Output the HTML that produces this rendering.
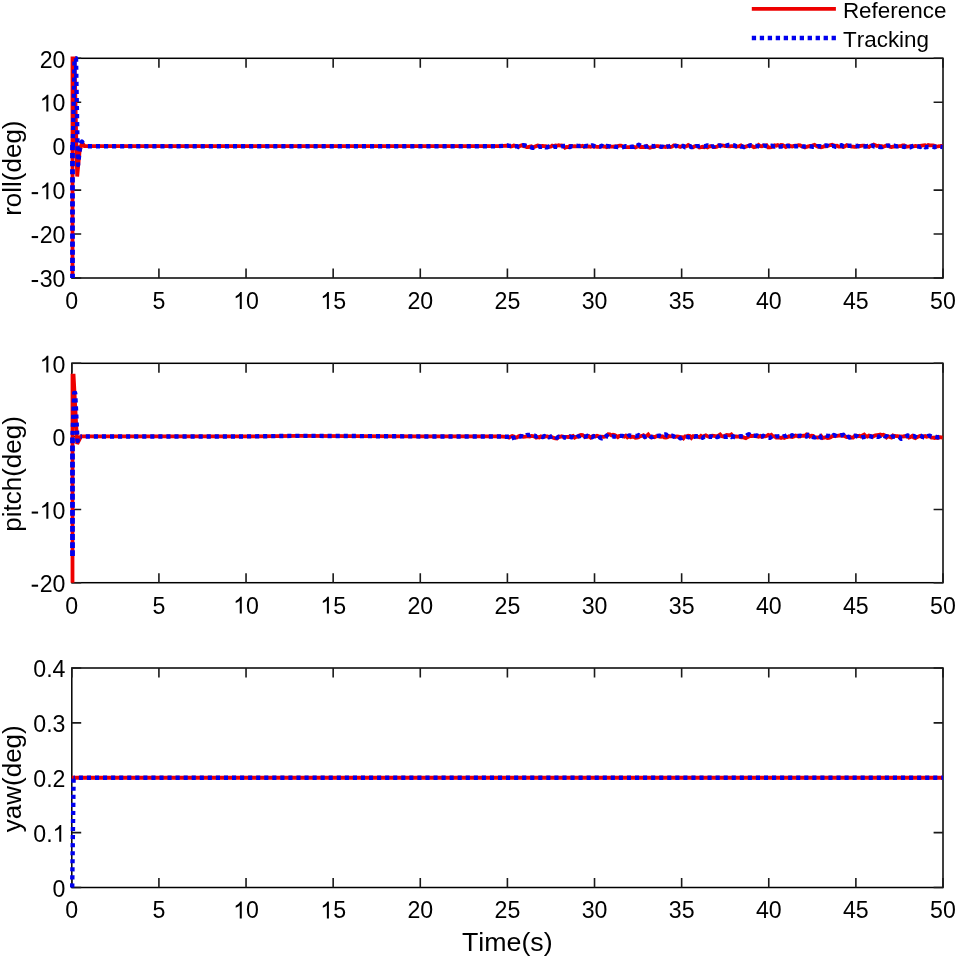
<!DOCTYPE html>
<html><head><meta charset="utf-8"><style>html,body{margin:0;padding:0;background:#fff;}svg{display:block;will-change:transform;}text{font-family:"Liberation Sans",sans-serif;fill:#000;font-kerning:none;}</style></head><body>
<svg width="957" height="957" viewBox="0 0 957 957">
<rect width="957" height="957" fill="#fff"/>
<g>
<rect x="71.8" y="58.3" width="871.2" height="219.7" fill="none" stroke="#000" stroke-width="1.5"/>
<path d="M71.8 278v-9.4M71.8 58.3v9.4M158.92 278v-9.4M158.92 58.3v9.4M246.04 278v-9.4M246.04 58.3v9.4M333.16 278v-9.4M333.16 58.3v9.4M420.28 278v-9.4M420.28 58.3v9.4M507.4 278v-9.4M507.4 58.3v9.4M594.52 278v-9.4M594.52 58.3v9.4M681.64 278v-9.4M681.64 58.3v9.4M768.76 278v-9.4M768.76 58.3v9.4M855.88 278v-9.4M855.88 58.3v9.4M943 278v-9.4M943 58.3v9.4M71.8 278h9.4M943 278h-9.4M71.8 234.06h9.4M943 234.06h-9.4M71.8 190.12h9.4M943 190.12h-9.4M71.8 146.18h9.4M943 146.18h-9.4M71.8 102.24h9.4M943 102.24h-9.4M71.8 58.3h9.4M943 58.3h-9.4" stroke="#1a1a1a" stroke-width="1.6" fill="none"/>
<clipPath id="c0"><rect x="68.8" y="55.3" width="877.2" height="225.7"/></clipPath>
<g clip-path="url(#c0)">
<polyline fill="none" stroke="#ee0000" stroke-width="3.8" stroke-linejoin="miter" stroke-miterlimit="2" points="72.5,278 72.5,58.3 74.5,58.3 76.5,150 77.2,176.5 79.5,152 82,142.5 84.5,146.18 89.22,146.18 158.92,146.18 246.04,146.18 333.16,146.18 420.28,146.18 498.69,146.18 507.4,145.57 509,146.03 510.6,146.59 512.2,146.15 513.8,145.51 515.4,145.78 517,146.2 518.6,146.73 520.2,145.88 521.8,145.38 523.4,146.09 525,146.36 526.6,147.04 528.2,147.14 529.8,146.66 531.4,146.31 533,147.52 534.6,146.78 536.2,146.12 537.8,145.58 539.4,145.9 541,146.1 542.6,145.96 544.2,146.03 545.8,146.23 547.4,146.55 549,146.93 550.6,146.69 552.2,145.58 553.8,146.2 555.4,145.49 557,145.71 558.6,145.19 560.2,145.64 561.8,145.5 563.4,145.91 565,147.67 566.6,146.97 568.2,147.03 569.8,145.99 571.4,145.94 573,146.37 574.6,146.24 576.2,146.4 577.8,146.35 579.4,145.78 581,146.24 582.6,145.81 584.2,146.9 585.8,146.33 587.4,146.6 589,146.41 590.6,146.78 592.2,146.21 593.8,146.69 595.4,146.4 597,146.93 598.6,146.9 600.2,146.65 601.8,146.05 603.4,146.49 605,146.58 606.6,147.21 608.2,146.56 609.8,146.66 611.4,146.7 613,146.6 614.6,146.52 616.2,146.46 617.8,146.04 619.4,145.6 621,145.66 622.6,146.19 624.2,146.93 625.8,147.08 627.4,147.2 629,147.12 630.6,147.04 632.2,146.75 633.8,146.87 635.4,147.44 637,146.71 638.6,146.13 640.2,147.12 641.8,146.82 643.4,147.01 645,147.07 646.6,146.11 648.2,147.34 649.8,147.7 651.4,147.1 653,147.06 654.6,146.73 656.2,146.04 657.8,146.05 659.4,146.29 661,146.79 662.6,146.87 664.2,146.59 665.8,147.08 667.4,146.3 669,146.64 670.6,146.98 672.2,146.48 673.8,145.46 675.4,145.33 677,145.83 678.6,146.25 680.2,146.98 681.8,146.13 683.4,146.15 685,146.49 686.6,146.27 688.2,145.06 689.8,145.96 691.4,147.2 693,147.24 694.6,146.31 696.2,146.05 697.8,146.22 699.4,147.43 701,147.17 702.6,146.78 704.2,147.28 705.8,146.75 707.4,147.41 709,146.52 710.6,146.13 712.2,146.51 713.8,147.07 715.4,146.99 717,146.78 718.6,145.61 720.2,145.51 721.8,145.51 723.4,145.55 725,146.12 726.6,145.98 728.2,146.46 729.8,146.38 731.4,146.12 733,146.21 734.6,146.41 736.2,146.73 737.8,146.25 739.4,146.1 741,145.46 742.6,146.58 744.2,147.12 745.8,146.61 747.4,146.18 749,145.57 750.6,145.93 752.2,146.14 753.8,147.24 755.4,146.88 757,146.18 758.6,144.97 760.2,146.21 761.8,146.29 763.4,145.44 765,145.86 766.6,145.21 768.2,147.37 769.8,147.39 771.4,147.13 773,146.61 774.6,145.36 776.2,145.67 777.8,145.13 779.4,145.9 781,144.97 782.6,145.06 784.2,146.17 785.8,146.99 787.4,146.04 789,145.34 790.6,146.16 792.2,146.59 793.8,145.92 795.4,145.69 797,145.57 798.6,145.25 800.2,145.33 801.8,146.33 803.4,146.61 805,147.43 806.6,146.83 808.2,146.47 809.8,145.85 811.4,145.94 813,145.4 814.6,144.87 816.2,145.8 817.8,146.69 819.4,146.87 821,147.22 822.6,146.88 824.2,146.21 825.8,146.24 827.4,146.03 829,145.55 830.6,144.99 832.2,144.79 833.8,145.41 835.4,145.83 837,145.75 838.6,146.65 840.2,146.53 841.8,146.66 843.4,147.05 845,146.25 846.6,145.24 848.2,146.04 849.8,145.76 851.4,146.6 853,146.58 854.6,146.9 856.2,146.95 857.8,145.57 859.4,146.2 861,145.86 862.6,145.63 864.2,145.66 865.8,146.28 867.4,146.67 869,146.95 870.6,145.78 872.2,145.67 873.8,144.72 875.4,145.33 877,146.01 878.6,145.71 880.2,146.04 881.8,146.22 883.4,146.7 885,146.06 886.6,145.7 888.2,145.54 889.8,146.7 891.4,147 893,146.57 894.6,146.51 896.2,146.42 897.8,146.41 899.4,146.2 901,146.03 902.6,145.47 904.2,145.47 905.8,146.61 907.4,146.68 909,146.49 910.6,146.24 912.2,146.25 913.8,146.39 915.4,145.98 917,146.17 918.6,146.29 920.2,145.87 921.8,145.62 923.4,145.38 925,145.21 926.6,146.09 928.2,144.96 929.8,145.38 931.4,145.44 933,145.46 934.6,145.83 936.2,146.55 937.8,146.42 939.4,146.24 941,145.91 942.6,145.97"/>
<polyline fill="none" stroke-linejoin="round" stroke="#0000ee" stroke-width="4.8" stroke-dasharray="5.2 2.85" stroke-dashoffset="1.0" points="72.5,278 72.5,142.18"/>
<polyline fill="none" stroke-linejoin="round" stroke="#0000ee" stroke-width="4.4" stroke-dasharray="4.1 3.960000000000001" stroke-dashoffset="0" points="72.8,146.18 74.6,58.3 76,58.3 77.5,145 78,165 80,148 82,141.5 84.5,146.18"/>
<polyline fill="none" stroke-linejoin="round" stroke="#0000ee" stroke-width="4.4" stroke-dasharray="4.1 3.960000000000001" stroke-dashoffset="4.67" points="84.5,146.18 89.22,146.18 158.92,146.18 246.04,146.18 333.16,146.18 420.28,146.18 498.69,146.18 507.4,145.46 509,145.9 510.6,145.89 512.2,145.78 513.8,146.44 515.4,146.36 517,146.14 518.6,147.05 520.2,146.41 521.8,145.68 523.4,145.23 525,145.4 526.6,146.07 528.2,146.54 529.8,146.94 531.4,147.52 533,147.77 534.6,147.38 536.2,147.52 537.8,147.26 539.4,146.51 541,146.79 542.6,146.57 544.2,146.31 545.8,147.27 547.4,147.19 549,146.52 550.6,146.36 552.2,147.47 553.8,146.79 555.4,146.91 557,146.92 558.6,146.87 560.2,146.88 561.8,146.35 563.4,146.07 565,146.07 566.6,145.97 568.2,146.49 569.8,147.15 571.4,146.3 573,146.55 574.6,145.92 576.2,145.72 577.8,145.83 579.4,146.07 581,145.93 582.6,144.76 584.2,146.12 585.8,146.04 587.4,145.81 589,146.35 590.6,146 592.2,145.39 593.8,146.02 595.4,146.33 597,145.88 598.6,146.46 600.2,146.55 601.8,145.84 603.4,146.9 605,146.74 606.6,145.94 608.2,146.31 609.8,146.34 611.4,146.78 613,145.86 614.6,146.55 616.2,146.89 617.8,146.94 619.4,146.93 621,147.28 622.6,147.17 624.2,146.82 625.8,146.14 627.4,146.74 629,147.01 630.6,146.81 632.2,146.63 633.8,146.82 635.4,145.29 637,145.88 638.6,144.79 640.2,145.56 641.8,146.4 643.4,147.28 645,146.57 646.6,146.64 648.2,146.42 649.8,145.22 651.4,146.04 653,146.12 654.6,146.21 656.2,145.75 657.8,145.94 659.4,146.12 661,146.81 662.6,146.7 664.2,148.24 665.8,147.13 667.4,146.59 669,146.41 670.6,145.92 672.2,146.82 673.8,146.88 675.4,145.95 677,146.13 678.6,146.75 680.2,145.81 681.8,146.07 683.4,146.03 685,147.29 686.6,147.02 688.2,146.46 689.8,146.08 691.4,147.1 693,146.47 694.6,147.51 696.2,146.15 697.8,146.09 699.4,146.03 701,145.77 702.6,145.87 704.2,146.38 705.8,145.98 707.4,145.37 709,146.44 710.6,147.08 712.2,146.35 713.8,146.45 715.4,145.06 717,146.11 718.6,145.5 720.2,145.55 721.8,146.94 723.4,145.99 725,146.11 726.6,145.63 728.2,144.97 729.8,144.95 731.4,145.66 733,145.26 734.6,145.4 736.2,146.14 737.8,146.1 739.4,145.5 741,146.58 742.6,146.48 744.2,147.08 745.8,146.17 747.4,147.04 749,146 750.6,145.23 752.2,145.47 753.8,145.62 755.4,146.03 757,145.84 758.6,146.33 760.2,146.96 761.8,146.3 763.4,145.58 765,145.67 766.6,146.33 768.2,146.7 769.8,146.31 771.4,145.78 773,145.97 774.6,146.57 776.2,146.06 777.8,146.79 779.4,146.65 781,146.61 782.6,146.12 784.2,146.85 785.8,146.59 787.4,145.68 789,146.34 790.6,146.08 792.2,146.69 793.8,146.57 795.4,146.1 797,146.24 798.6,145.99 800.2,145.68 801.8,145.94 803.4,146.49 805,146.41 806.6,146.28 808.2,145.98 809.8,146.38 811.4,146.45 813,146.83 814.6,146.74 816.2,147.58 817.8,146.18 819.4,146.18 821,146.47 822.6,146.81 824.2,145.78 825.8,145.37 827.4,145.73 829,146.48 830.6,146.92 832.2,145.85 833.8,146.08 835.4,146.74 837,146.52 838.6,145.87 840.2,145.67 841.8,145.25 843.4,146.29 845,146.13 846.6,145.96 848.2,145.64 849.8,145.84 851.4,145.56 853,145.37 854.6,145.73 856.2,145.84 857.8,146.24 859.4,146.31 861,146.86 862.6,146.55 864.2,146.54 865.8,146.51 867.4,145.98 869,146.69 870.6,146.2 872.2,145.42 873.8,146.41 875.4,146.65 877,146.18 878.6,146.68 880.2,146.96 881.8,146.98 883.4,146.05 885,146.22 886.6,145.7 888.2,145.63 889.8,145.62 891.4,145.47 893,146.06 894.6,145.74 896.2,146.27 897.8,146.33 899.4,145.98 901,146.18 902.6,146.54 904.2,146.97 905.8,146.51 907.4,147.25 909,147.07 910.6,147.32 912.2,146.15 913.8,145.65 915.4,146.52 917,146.27 918.6,146.48 920.2,146.97 921.8,145.91 923.4,146.28 925,147.22 926.6,147.17 928.2,146.79 929.8,146.82 931.4,146.56 933,146.79 934.6,147.19 936.2,146.64 937.8,146.74 939.4,146.66 941,146.84 942.6,146.98"/>
</g>
<text x="0" y="0" font-size="23.4" transform="translate(65.36 308.9) scale(0.99 1.0)">0</text>
<text x="0" y="0" font-size="23.4" transform="translate(152.48 308.9) scale(0.99 1.0)">5</text>
<path d="M763 0H583V1150Q521 1088 420 1026Q320 966 223 936V1106Q370 1178 480 1278Q590 1378 635 1470H763Z" transform="translate(233.16 308.9) scale(0.011312 -0.011426)"/>
<text x="0" y="0" font-size="23.4" transform="translate(246.04 308.9) scale(0.99 1.0)">0</text>
<path d="M763 0H583V1150Q521 1088 420 1026Q320 966 223 936V1106Q370 1178 480 1278Q590 1378 635 1470H763Z" transform="translate(320.28 308.9) scale(0.011312 -0.011426)"/>
<text x="0" y="0" font-size="23.4" transform="translate(333.16 308.9) scale(0.99 1.0)">5</text>
<text x="0" y="0" font-size="23.4" transform="translate(407.4 308.9) scale(0.99 1.0)">20</text>
<text x="0" y="0" font-size="23.4" transform="translate(494.52 308.9) scale(0.99 1.0)">25</text>
<text x="0" y="0" font-size="23.4" transform="translate(581.64 308.9) scale(0.99 1.0)">30</text>
<text x="0" y="0" font-size="23.4" transform="translate(668.76 308.9) scale(0.99 1.0)">35</text>
<text x="0" y="0" font-size="23.4" transform="translate(755.88 308.9) scale(0.99 1.0)">40</text>
<text x="0" y="0" font-size="23.4" transform="translate(843 308.9) scale(0.99 1.0)">45</text>
<text x="0" y="0" font-size="23.4" transform="translate(930.12 308.9) scale(0.99 1.0)">50</text>
<path d="M-30 452H537V632H-30Z" transform="translate(32.02 287.2) scale(0.011312 -0.011426)"/>
<text x="0" y="0" font-size="23.4" transform="translate(39.73 287.2) scale(0.99 1.0)">30</text>
<path d="M-30 452H537V632H-30Z" transform="translate(32.02 243.26) scale(0.011312 -0.011426)"/>
<text x="0" y="0" font-size="23.4" transform="translate(39.73 243.26) scale(0.99 1.0)">20</text>
<path d="M-30 452H537V632H-30Z" transform="translate(32.02 199.32) scale(0.011312 -0.011426)"/>
<path d="M763 0H583V1150Q521 1088 420 1026Q320 966 223 936V1106Q370 1178 480 1278Q590 1378 635 1470H763Z" transform="translate(39.73 199.32) scale(0.011312 -0.011426)"/>
<text x="0" y="0" font-size="23.4" transform="translate(52.62 199.32) scale(0.99 1.0)">0</text>
<text x="0" y="0" font-size="23.4" transform="translate(52.62 155.38) scale(0.99 1.0)">0</text>
<path d="M763 0H583V1150Q521 1088 420 1026Q320 966 223 936V1106Q370 1178 480 1278Q590 1378 635 1470H763Z" transform="translate(39.73 111.44) scale(0.011312 -0.011426)"/>
<text x="0" y="0" font-size="23.4" transform="translate(52.62 111.44) scale(0.99 1.0)">0</text>
<text x="0" y="0" font-size="23.4" transform="translate(39.73 67.5) scale(0.99 1.0)">20</text>
<text x="0" y="0" text-anchor="middle" font-size="26" transform="translate(21 168.15) rotate(-90)">roll(deg)</text>
</g>
<g>
<rect x="71.8" y="363.3" width="871.2" height="219.4" fill="none" stroke="#000" stroke-width="1.5"/>
<path d="M71.8 582.7v-9.4M71.8 363.3v9.4M158.92 582.7v-9.4M158.92 363.3v9.4M246.04 582.7v-9.4M246.04 363.3v9.4M333.16 582.7v-9.4M333.16 363.3v9.4M420.28 582.7v-9.4M420.28 363.3v9.4M507.4 582.7v-9.4M507.4 363.3v9.4M594.52 582.7v-9.4M594.52 363.3v9.4M681.64 582.7v-9.4M681.64 363.3v9.4M768.76 582.7v-9.4M768.76 363.3v9.4M855.88 582.7v-9.4M855.88 363.3v9.4M943 582.7v-9.4M943 363.3v9.4M71.8 582.7h9.4M943 582.7h-9.4M71.8 509.57h9.4M943 509.57h-9.4M71.8 436.43h9.4M943 436.43h-9.4M71.8 363.3h9.4M943 363.3h-9.4" stroke="#1a1a1a" stroke-width="1.6" fill="none"/>
<clipPath id="c1"><rect x="68.8" y="360.3" width="877.2" height="225.40000000000003"/></clipPath>
<g clip-path="url(#c1)">
<polyline fill="none" stroke="#ee0000" stroke-width="3.8" stroke-linejoin="miter" stroke-miterlimit="3" points="72.5,582.7 72.5,375.6 73.6,375.6 77.2,444 81,436.43 89.22,436.43 158.92,436.43 246.04,436.43 298.31,435.83 350.58,436.03 420.28,436.43 498.69,436.43 507.4,436.96 509,437.61 510.6,436.57 512.2,435.93 513.8,436.41 515.4,437.59 517,437.36 518.6,436.19 520.2,435.8 521.8,436.07 523.4,436.88 525,436.69 526.6,436.36 528.2,436.26 529.8,436.47 531.4,435.98 533,436.21 534.6,436.51 536.2,437.58 537.8,437.05 539.4,437.43 541,436.32 542.6,436.96 544.2,436.85 545.8,436.33 547.4,436.38 549,437.02 550.6,436.56 552.2,437.21 553.8,437.89 555.4,438.33 557,438.57 558.6,436.79 560.2,436.88 561.8,436.25 563.4,436.98 565,436.81 566.6,436.81 568.2,436.97 569.8,436.36 571.4,436.48 573,436.01 574.6,437.6 576.2,436.8 577.8,436.67 579.4,435.42 581,434.92 582.6,435.07 584.2,436.24 585.8,436.86 587.4,436.88 589,436.28 590.6,437.6 592.2,436.42 593.8,435.88 595.4,436.48 597,435.82 598.6,436.3 600.2,437.03 601.8,436.74 603.4,436.9 605,436.74 606.6,436.18 608.2,434.21 609.8,434.43 611.4,435.35 613,434.77 614.6,435.17 616.2,435.9 617.8,437.05 619.4,435.89 621,435.81 622.6,436.26 624.2,436.71 625.8,435.69 627.4,437.29 629,436.38 630.6,437.15 632.2,436.72 633.8,436.89 635.4,437.82 637,437.69 638.6,437.23 640.2,436.23 641.8,435.91 643.4,435.22 645,437.13 646.6,435.81 648.2,434.4 649.8,436.43 651.4,437.31 653,436.7 654.6,437.16 656.2,436.31 657.8,436 659.4,436.56 661,436.79 662.6,436.35 664.2,437.49 665.8,437.53 667.4,437.15 669,436.06 670.6,436.34 672.2,436.2 673.8,436.27 675.4,436.9 677,436.33 678.6,436.58 680.2,437.07 681.8,437.04 683.4,438.33 685,436.33 686.6,436.36 688.2,435.62 689.8,435.96 691.4,437.88 693,436.15 694.6,436.1 696.2,436.71 697.8,436.67 699.4,437.2 701,435.83 702.6,436.77 704.2,436 705.8,435.4 707.4,436.26 709,436.68 710.6,436.1 712.2,435.72 713.8,435.92 715.4,436.16 717,436.19 718.6,435.64 720.2,434.46 721.8,436.24 723.4,436.46 725,435.63 726.6,434.96 728.2,435.17 729.8,435.48 731.4,434.49 733,436.32 734.6,436.67 736.2,436.36 737.8,436.64 739.4,436.72 741,437.31 742.6,437.03 744.2,437.62 745.8,438.14 747.4,437.17 749,436.55 750.6,435.92 752.2,436.01 753.8,435.72 755.4,436.06 757,436.45 758.6,436.81 760.2,435.88 761.8,436.87 763.4,436.47 765,436.39 766.6,436.08 768.2,434.9 769.8,435.77 771.4,434.89 773,436.34 774.6,436.42 776.2,437.48 777.8,437.46 779.4,437.48 781,437.96 782.6,437.25 784.2,437.93 785.8,437.18 787.4,437.02 789,436.31 790.6,436.74 792.2,437.06 793.8,436.45 795.4,435.59 797,435.95 798.6,436.46 800.2,436.35 801.8,435.74 803.4,435.57 805,435.79 806.6,434.32 808.2,434.89 809.8,436.56 811.4,435.65 813,435.86 814.6,437.26 816.2,437.37 817.8,437.57 819.4,436.97 821,435.84 822.6,438.05 824.2,437.53 825.8,437.21 827.4,437.97 829,437.83 830.6,437.25 832.2,436.15 833.8,436.18 835.4,436.2 837,435.86 838.6,435.54 840.2,435.28 841.8,435.72 843.4,435.65 845,436.28 846.6,437.04 848.2,436.98 849.8,436.75 851.4,437.66 853,437.55 854.6,436.06 856.2,435.75 857.8,436.19 859.4,435.72 861,436.55 862.6,435.33 864.2,434.55 865.8,436.06 867.4,436.62 869,435.47 870.6,435.96 872.2,437.08 873.8,436.04 875.4,435.42 877,435.06 878.6,435.02 880.2,434.49 881.8,435.04 883.4,434.7 885,435.52 886.6,437.44 888.2,436.28 889.8,436.96 891.4,437.51 893,435.48 894.6,435.98 896.2,436.18 897.8,436.07 899.4,436.77 901,436.33 902.6,436.61 904.2,436.27 905.8,436.25 907.4,435.81 909,437.62 910.6,437.05 912.2,436.02 913.8,437.52 915.4,438.09 917,437.21 918.6,436.42 920.2,435.93 921.8,436.99 923.4,436.52 925,436 926.6,436.76 928.2,436.44 929.8,436.4 931.4,437.72 933,437.72 934.6,437.98 936.2,437.57 937.8,437.92 939.4,437.14 941,437.47 942.6,437.71"/>
<polyline fill="none" stroke-linejoin="round" stroke="#0000ee" stroke-width="4.8" stroke-dasharray="5.8 2.25" stroke-dashoffset="0" points="72.5,556 72.5,436"/>
<polyline fill="none" stroke-linejoin="round" stroke="#0000ee" stroke-width="4.4" stroke-dasharray="4.1 3.960000000000001" stroke-dashoffset="6.98" points="72.5,436 74.2,393 75.2,393 77.5,441 80.5,436.43"/>
<polyline fill="none" stroke-linejoin="round" stroke="#0000ee" stroke-width="4.4" stroke-dasharray="4.1 3.960000000000001" stroke-dashoffset="2.76" points="80.5,436.43 89.22,436.43 158.92,436.43 246.04,436.43 298.31,435.83 350.58,436.03 420.28,436.43 498.69,436.43 507.4,436.79 509,436.53 510.6,438.91 512.2,438.16 513.8,437.52 515.4,437.34 517,436.57 518.6,436 520.2,436.57 521.8,436.2 523.4,436.88 525,436.53 526.6,435.23 528.2,434.84 529.8,434.95 531.4,434.21 533,435.16 534.6,435.53 536.2,436.6 537.8,435.91 539.4,435.98 541,436.59 542.6,437.04 544.2,436.05 545.8,437.3 547.4,436.47 549,437.3 550.6,436.7 552.2,436.28 553.8,435.47 555.4,435.81 557,437.78 558.6,436.72 560.2,437.68 561.8,438.06 563.4,437.05 565,437.56 566.6,438.04 568.2,437.1 569.8,436.43 571.4,437.22 573,437.12 574.6,438.32 576.2,437.78 577.8,436.36 579.4,436.36 581,435.56 582.6,436.49 584.2,436.96 585.8,436.43 587.4,435.81 589,436.73 590.6,436.33 592.2,437.24 593.8,436.19 595.4,436.1 597,435.87 598.6,435.39 600.2,437.79 601.8,438.37 603.4,437.06 605,437.34 606.6,435.66 608.2,436.9 609.8,437.46 611.4,436.76 613,436.37 614.6,436.57 616.2,436.84 617.8,436.4 619.4,435.82 621,435.91 622.6,435.85 624.2,436.67 625.8,436.63 627.4,436.71 629,435.41 630.6,435.61 632.2,435.71 633.8,435.67 635.4,435.94 637,435.95 638.6,435.1 640.2,436.37 641.8,437.06 643.4,436.42 645,436.88 646.6,436.03 648.2,435.33 649.8,435.69 651.4,437.14 653,436.76 654.6,435.54 656.2,436.13 657.8,435.87 659.4,435.63 661,436.26 662.6,435.12 664.2,434.45 665.8,434.33 667.4,436.07 669,436.32 670.6,435.96 672.2,435.71 673.8,436.53 675.4,437.4 677,436.47 678.6,436.67 680.2,438.27 681.8,437.9 683.4,437.04 685,437.04 686.6,436.87 688.2,437.18 689.8,437.13 691.4,436.5 693,436.42 694.6,436.73 696.2,436.14 697.8,436.36 699.4,435.78 701,436.99 702.6,437.88 704.2,436.65 705.8,437.19 707.4,437.01 709,436.85 710.6,436.52 712.2,436.71 713.8,437.33 715.4,436.1 717,437.01 718.6,436.6 720.2,435.78 721.8,436.08 723.4,436.73 725,436.57 726.6,436.76 728.2,436.41 729.8,436.08 731.4,436.99 733,436.11 734.6,437 736.2,437.02 737.8,436.6 739.4,436.4 741,436.25 742.6,436.35 744.2,436.39 745.8,436.35 747.4,435.06 749,434.23 750.6,435.5 752.2,435.52 753.8,435.57 755.4,435.88 757,435.39 758.6,436.99 760.2,436.78 761.8,436.54 763.4,435.79 765,436.74 766.6,437.15 768.2,437.91 769.8,437.92 771.4,436.72 773,435.74 774.6,437.05 776.2,436.34 777.8,436.35 779.4,436.32 781,436.76 782.6,437.04 784.2,436.08 785.8,435.83 787.4,434.93 789,436.04 790.6,436.14 792.2,435.13 793.8,436.49 795.4,436.51 797,435.81 798.6,435.84 800.2,435.74 801.8,436.17 803.4,436.47 805,436.09 806.6,436.59 808.2,434.75 809.8,435.31 811.4,436.31 813,437.07 814.6,437.39 816.2,436.27 817.8,435.21 819.4,435.56 821,437.58 822.6,437.29 824.2,436.43 825.8,435.3 827.4,435.95 829,435.89 830.6,436.52 832.2,436.66 833.8,434.96 835.4,435.58 837,436.55 838.6,436.12 840.2,435.47 841.8,435.13 843.4,434.83 845,437.11 846.6,437.82 848.2,436.81 849.8,437.63 851.4,436.39 853,436.06 854.6,435.74 856.2,435.96 857.8,436.66 859.4,438 861,437.84 862.6,437.16 864.2,436.98 865.8,436.6 867.4,436.82 869,436.07 870.6,436.44 872.2,436.78 873.8,437.31 875.4,436.37 877,436.72 878.6,436.82 880.2,436.11 881.8,434.92 883.4,435.25 885,436.41 886.6,436.26 888.2,437.94 889.8,437.68 891.4,436.65 893,436.51 894.6,436.82 896.2,437.01 897.8,436.61 899.4,436.87 901,438.75 902.6,438.37 904.2,437.64 905.8,436.8 907.4,435.43 909,436.03 910.6,435.95 912.2,436.16 913.8,435.93 915.4,436.72 917,437.36 918.6,436.48 920.2,435.54 921.8,436.18 923.4,437.28 925,437.21 926.6,437.22 928.2,435.92 929.8,435.8 931.4,436.51 933,436.75 934.6,436.63 936.2,436.96 937.8,437.33 939.4,437.01 941,436.29 942.6,435.41"/>
</g>
<text x="0" y="0" font-size="23.4" transform="translate(65.36 613.6) scale(0.99 1.0)">0</text>
<text x="0" y="0" font-size="23.4" transform="translate(152.48 613.6) scale(0.99 1.0)">5</text>
<path d="M763 0H583V1150Q521 1088 420 1026Q320 966 223 936V1106Q370 1178 480 1278Q590 1378 635 1470H763Z" transform="translate(233.16 613.6) scale(0.011312 -0.011426)"/>
<text x="0" y="0" font-size="23.4" transform="translate(246.04 613.6) scale(0.99 1.0)">0</text>
<path d="M763 0H583V1150Q521 1088 420 1026Q320 966 223 936V1106Q370 1178 480 1278Q590 1378 635 1470H763Z" transform="translate(320.28 613.6) scale(0.011312 -0.011426)"/>
<text x="0" y="0" font-size="23.4" transform="translate(333.16 613.6) scale(0.99 1.0)">5</text>
<text x="0" y="0" font-size="23.4" transform="translate(407.4 613.6) scale(0.99 1.0)">20</text>
<text x="0" y="0" font-size="23.4" transform="translate(494.52 613.6) scale(0.99 1.0)">25</text>
<text x="0" y="0" font-size="23.4" transform="translate(581.64 613.6) scale(0.99 1.0)">30</text>
<text x="0" y="0" font-size="23.4" transform="translate(668.76 613.6) scale(0.99 1.0)">35</text>
<text x="0" y="0" font-size="23.4" transform="translate(755.88 613.6) scale(0.99 1.0)">40</text>
<text x="0" y="0" font-size="23.4" transform="translate(843 613.6) scale(0.99 1.0)">45</text>
<text x="0" y="0" font-size="23.4" transform="translate(930.12 613.6) scale(0.99 1.0)">50</text>
<path d="M-30 452H537V632H-30Z" transform="translate(32.02 591.9) scale(0.011312 -0.011426)"/>
<text x="0" y="0" font-size="23.4" transform="translate(39.73 591.9) scale(0.99 1.0)">20</text>
<path d="M-30 452H537V632H-30Z" transform="translate(32.02 518.77) scale(0.011312 -0.011426)"/>
<path d="M763 0H583V1150Q521 1088 420 1026Q320 966 223 936V1106Q370 1178 480 1278Q590 1378 635 1470H763Z" transform="translate(39.73 518.77) scale(0.011312 -0.011426)"/>
<text x="0" y="0" font-size="23.4" transform="translate(52.62 518.77) scale(0.99 1.0)">0</text>
<text x="0" y="0" font-size="23.4" transform="translate(52.62 445.63) scale(0.99 1.0)">0</text>
<path d="M763 0H583V1150Q521 1088 420 1026Q320 966 223 936V1106Q370 1178 480 1278Q590 1378 635 1470H763Z" transform="translate(39.73 372.5) scale(0.011312 -0.011426)"/>
<text x="0" y="0" font-size="23.4" transform="translate(52.62 372.5) scale(0.99 1.0)">0</text>
<text x="0" y="0" text-anchor="middle" font-size="26" transform="translate(21 473.9) rotate(-90)">pitch(deg)</text>
</g>
<g>
<rect x="71.8" y="668" width="871.2" height="219.5" fill="none" stroke="#000" stroke-width="1.5"/>
<path d="M71.8 887.5v-9.4M71.8 668v9.4M158.92 887.5v-9.4M158.92 668v9.4M246.04 887.5v-9.4M246.04 668v9.4M333.16 887.5v-9.4M333.16 668v9.4M420.28 887.5v-9.4M420.28 668v9.4M507.4 887.5v-9.4M507.4 668v9.4M594.52 887.5v-9.4M594.52 668v9.4M681.64 887.5v-9.4M681.64 668v9.4M768.76 887.5v-9.4M768.76 668v9.4M855.88 887.5v-9.4M855.88 668v9.4M943 887.5v-9.4M943 668v9.4M71.8 887.5h9.4M943 887.5h-9.4M71.8 832.62h9.4M943 832.62h-9.4M71.8 777.75h9.4M943 777.75h-9.4M71.8 722.88h9.4M943 722.88h-9.4M71.8 668h9.4M943 668h-9.4" stroke="#1a1a1a" stroke-width="1.6" fill="none"/>
<clipPath id="c2"><rect x="68.8" y="665.0" width="877.2" height="225.5"/></clipPath>
<g clip-path="url(#c2)">
<polyline fill="none" stroke="#ee0000" stroke-width="3.8" points="71.8,777.75 943,777.75"/>
<polyline fill="none" stroke-linejoin="round" stroke="#0000ee" stroke-width="4.4" stroke-dasharray="4.1 3.960000000000001" stroke-dashoffset="0" points="72.2,887.5 73.6,777.75"/>
<polyline fill="none" stroke-linejoin="round" stroke="#0000ee" stroke-width="4.4" stroke-dasharray="4.1 3.960000000000001" stroke-dashoffset="2.81" points="73.6,777.75 943,777.75"/>
</g>
<text x="0" y="0" font-size="23.4" transform="translate(65.36 918.4) scale(0.99 1.0)">0</text>
<text x="0" y="0" font-size="23.4" transform="translate(152.48 918.4) scale(0.99 1.0)">5</text>
<path d="M763 0H583V1150Q521 1088 420 1026Q320 966 223 936V1106Q370 1178 480 1278Q590 1378 635 1470H763Z" transform="translate(233.16 918.4) scale(0.011312 -0.011426)"/>
<text x="0" y="0" font-size="23.4" transform="translate(246.04 918.4) scale(0.99 1.0)">0</text>
<path d="M763 0H583V1150Q521 1088 420 1026Q320 966 223 936V1106Q370 1178 480 1278Q590 1378 635 1470H763Z" transform="translate(320.28 918.4) scale(0.011312 -0.011426)"/>
<text x="0" y="0" font-size="23.4" transform="translate(333.16 918.4) scale(0.99 1.0)">5</text>
<text x="0" y="0" font-size="23.4" transform="translate(407.4 918.4) scale(0.99 1.0)">20</text>
<text x="0" y="0" font-size="23.4" transform="translate(494.52 918.4) scale(0.99 1.0)">25</text>
<text x="0" y="0" font-size="23.4" transform="translate(581.64 918.4) scale(0.99 1.0)">30</text>
<text x="0" y="0" font-size="23.4" transform="translate(668.76 918.4) scale(0.99 1.0)">35</text>
<text x="0" y="0" font-size="23.4" transform="translate(755.88 918.4) scale(0.99 1.0)">40</text>
<text x="0" y="0" font-size="23.4" transform="translate(843 918.4) scale(0.99 1.0)">45</text>
<text x="0" y="0" font-size="23.4" transform="translate(930.12 918.4) scale(0.99 1.0)">50</text>
<text x="0" y="0" font-size="23.4" transform="translate(52.62 896.7) scale(0.99 1.0)">0</text>
<text x="0" y="0" font-size="23.4" transform="translate(33.3 841.83) scale(0.99 1.0)">0.</text>
<path d="M763 0H583V1150Q521 1088 420 1026Q320 966 223 936V1106Q370 1178 480 1278Q590 1378 635 1470H763Z" transform="translate(52.62 841.83) scale(0.011312 -0.011426)"/>
<text x="0" y="0" font-size="23.4" transform="translate(33.3 786.95) scale(0.99 1.0)">0.2</text>
<text x="0" y="0" font-size="23.4" transform="translate(33.3 732.08) scale(0.99 1.0)">0.3</text>
<text x="0" y="0" font-size="23.4" transform="translate(33.3 677.2) scale(0.99 1.0)">0.4</text>
<text x="0" y="0" text-anchor="middle" font-size="26" transform="translate(21 778.75) rotate(-90)">yaw(deg)</text>
</g>
<text x="0" y="0" text-anchor="middle" font-size="26" transform="translate(507.3 950.6) scale(1.03 1)">Time(s)</text>
<line x1="751.8" y1="8.9" x2="835.9" y2="8.9" stroke="#ee0000" stroke-width="3.8"/>
<line x1="751.8" y1="37.9" x2="835.9" y2="37.9" stroke="#0000ee" stroke-width="4.5" stroke-dasharray="4.3 3.68"/>
<text x="0" y="0" font-size="22" transform="translate(842.9 18.0) scale(1.02 1)">Reference</text>
<text x="0" y="0" font-size="22" transform="translate(843.0 46.6) scale(1.02 1)">Tracking</text>
</svg></body></html>
